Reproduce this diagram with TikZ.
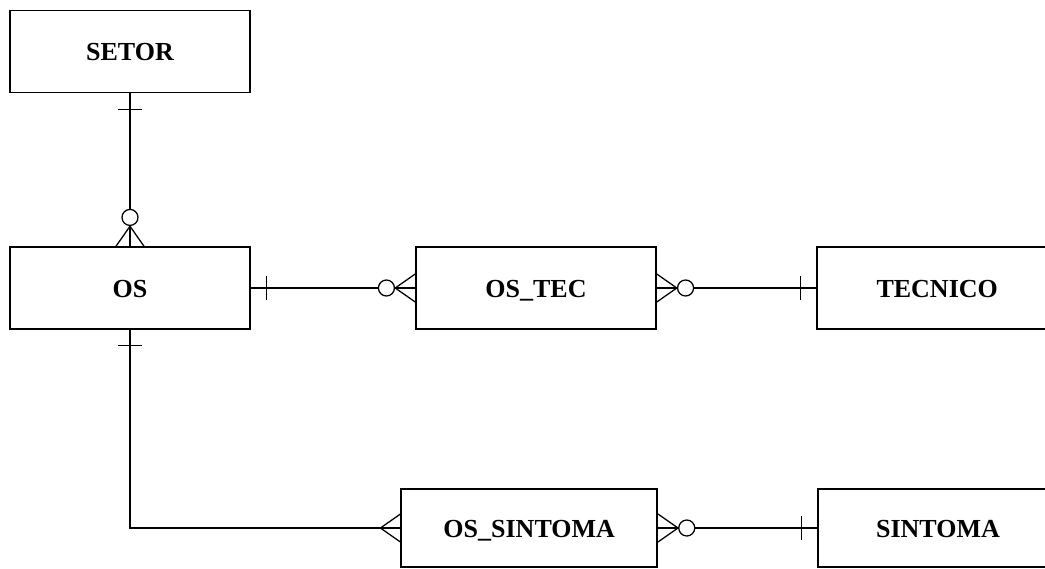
\documentclass[tikz,border=0pt]{standalone}
\usepackage{fontspec}
\setmainfont{Liberation Serif}
\usepackage{tikz}
\usetikzlibrary{positioning, calc}

\tikzset{
    entidade/.style={draw, line width=1.1pt, minimum width=6cm, minimum height=2.05cm,
        inner sep=0pt, text height=13pt, text depth=0pt,
        font=\bfseries\fontsize{18.5}{22}\selectfont},
    liga/.style={line width=0.9pt},
    % marcas de cardinalidade (origem = borda da caixa, linha para +x)
    pics/um/.style={code={\draw[liga] (0.4,-0.3) -- (0.4,0.3);}},
    pics/muitos/.style={code={\draw[liga] (0,0.35) -- (0.5,0) -- (0,-0.35) (0,0) -- (0.5,0);}},
    pics/zeromuitos/.style={code={
        \draw[liga] (0,0.35) -- (0.5,0) -- (0,-0.35) (0,0) -- (0.5,0);
        \draw[liga, fill=white] (0.72,0) circle (0.2);}}
}

\begin{document}
\begin{tikzpicture}
    \clip (0,0) rectangle (26.125,-14.2);

    % Entidades
    \node[entidade] (setor) at (3.25,-1.29) {SETOR};
    \node[entidade] (os) at (3.25,-7.2) {OS};
    \node[entidade] (ostec) at (13.4,-7.2) {OS\_TEC};
    \node[entidade] (tecnico) at (23.43,-7.2) {TECNICO};
    \node[entidade, minimum width=6.4cm, minimum height=1.95cm] (ossintoma) at (13.23,-13.2) {OS\_SINTOMA};
    \node[entidade, minimum height=1.95cm] (sintoma) at (23.45,-13.2) {SINTOMA};

    % Relacionamentos
    \draw[liga] (setor) -- (os);
    \draw[liga] (os) -- (ostec);
    \draw[liga] (ostec) -- (tecnico);
    \draw[liga] (os) |- (ossintoma);
    \draw[liga] (ossintoma) -- (sintoma);

    % Cardinalidades
    \pic[rotate=-90] at (setor.south) {um};
    \pic[rotate=90] at (os.north) {zeromuitos};
    \pic at (os.east) {um};
    \pic[rotate=180] at (ostec.west) {zeromuitos};
    \pic at (ostec.east) {zeromuitos};
    \pic[rotate=180] at (tecnico.west) {um};
    \pic[rotate=-90] at (os.south) {um};
    \pic[rotate=180] at (ossintoma.west) {muitos};
    \pic at (ossintoma.east) {zeromuitos};
    \pic[rotate=180] at (sintoma.west) {um};
\end{tikzpicture}
\end{document}
